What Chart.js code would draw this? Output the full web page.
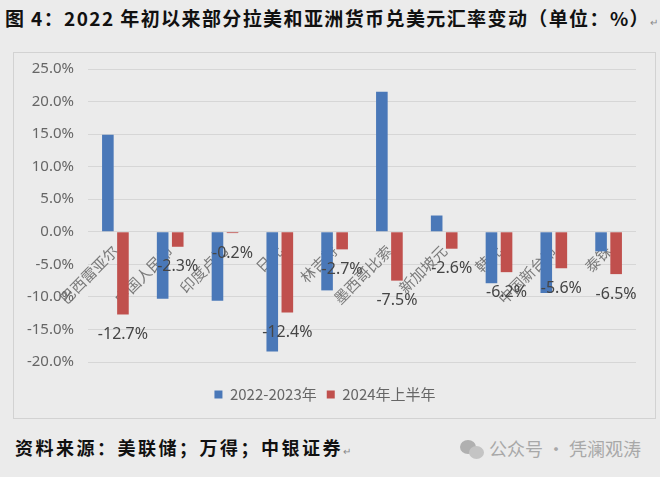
<!DOCTYPE html>
<html>
<head>
<meta charset="utf-8">
<script src="https://cdn.jsdelivr.net/npm/chart.js@4.4.1/dist/chart.umd.min.js"></script>
<style>
  html, body { margin: 0; padding: 0; }
  body { width: 660px; height: 477px; background: #ebebeb; position: relative; overflow: hidden;
         font-family: "Noto Sans CJK SC", "Noto Sans", sans-serif; }
  #title { position: absolute; left: 5px; top: 4px; font-size: 19px; font-weight: bold; color: #111;
           letter-spacing: 1.4px; white-space: nowrap; }
  #box { position: absolute; left: 13px; top: 52px; width: 641px; height: 365px;
         border: 1px solid #d2d2d2; background: #ebebeb; }
  #source { position: absolute; left: 15px; top: 434px; font-size: 18px; font-weight: bold; color: #111;
            letter-spacing: 2.5px; white-space: nowrap; }
  .pm { font-size: 10px; color: #888; font-weight: normal; letter-spacing: 0; }
  #mark { position: absolute; left: 460px; top: 435px; font-size: 18px; color: #a8a8a8; white-space: nowrap; }
  #mark .ic { display: inline-block; position: relative; width: 24px; height: 19px; vertical-align: -3px; margin-right: 5px; }
  #mark .ic i { position: absolute; background: #b0b0b0; border-radius: 50%; }
</style>
</head>
<body>
<div id="title">图 4：2022 年初以来部分拉美和亚洲货币兑美元汇率变动（单位：%）<span class="pm">↵</span></div>
<div id="box"><canvas id="fxChart" width="640" height="364"></canvas></div>
<div id="source">资料来源：美联储；万得；中银证券<span class="pm">↵</span></div>
<div id="mark"><span class="ic"><i style="left:0;top:0;width:16px;height:14px"></i><i style="left:9px;top:6px;width:15px;height:13px;background:#c4c4c4"></i></span>公众号 · 凭澜观涛</div>

<script>
// currency changes vs USD, %
const currencies = ['巴西雷亚尔', '中国人民币', '印度卢比', '日元', '林吉特', '墨西哥比索', '新加坡元', '韩元', '中国新台币', '泰铢'];
const change2022to2023 = [14.9, -10.3, -10.6, -18.4, -9.0, 21.5, 2.5, -7.9, -9.4, -3.0];
const changeH1of2024 = [-12.7, -2.3, -0.2, -12.4, -2.7, -7.5, -2.6, -6.2, -5.6, -6.5];
const seriesNames = ['2022-2023年', '2024年上半年'];
const yTicks = [-20, -15, -10, -5, 0, 5, 10, 15, 20, 25];

document.addEventListener('DOMContentLoaded', function () {

  const ctx = document.getElementById('fxChart').getContext('2d');

  // value labels under the red bars
  const redLabels = {
    id: 'redLabels',
    afterDatasetsDraw(chart) {
      const g = chart.ctx;
      const meta = chart.getDatasetMeta(1);
      g.save();
      g.font = '16px "Noto Sans", "Noto Sans CJK SC", sans-serif';
      g.fillStyle = '#454545';
      g.textAlign = 'center';
      g.textBaseline = 'middle';
      meta.data.forEach(function (bar, i) {
        g.fillText(changeH1of2024[i].toFixed(1) + '%', bar.x, bar.y + 20);
      });
      g.restore();
    }
  };

  new Chart(ctx, {
    type: 'bar',
    data: {
      labels: currencies,
      datasets: [{
        label: seriesNames[0],
        data: change2022to2023,
        backgroundColor: '#4a78b8',
        categoryPercentage: 0.55,
        barPercentage: 0.77
      }, {
        label: seriesNames[1],
        data: changeH1of2024,
        backgroundColor: '#c0504d',
        categoryPercentage: 0.55,
        barPercentage: 0.77
      }]
    },
    options: {
      responsive: false,
      animation: false,
      layout: { padding: { top: 16, right: 18, bottom: 5, left: 0 } },
      scales: {
        x: {
          position: { y: 0 },
          grid: { display: false },
          border: { display: false },
          ticks: {
            autoSkip: false,
            minRotation: 45,
            maxRotation: 45,
            padding: 2,
            color: '#7a7a7a',
            font: { size: 15, family: '"Noto Sans CJK SC", sans-serif' }
          }
        },
        y: {
          min: -22.3,
          max: 25,
          afterFit: function (s) { s.width = 74; },
          afterBuildTicks: function (s) { s.ticks = yTicks.map(function (v) { return { value: v }; }); },
          grid: { color: '#d6d6d6', drawTicks: true, tickLength: 12, tickColor: 'rgba(0,0,0,0)' },
          border: { display: false },
          ticks: {
            padding: 2,
            color: '#666',
            font: { size: 15, family: '"Noto Sans", sans-serif' },
            callback: function (v) { return v.toFixed(1) + '%'; }
          }
        }
      },
      plugins: {
        legend: {
          position: 'bottom',
          labels: {
            boxWidth: 8,
            boxHeight: 8,
            padding: 10,
            color: '#666',
            font: { size: 15, family: '"Noto Sans CJK SC", sans-serif' }
          }
        },
        tooltip: { enabled: false }
      }
    },
    plugins: [redLabels]
  });
});
</script>
</body>
</html>
